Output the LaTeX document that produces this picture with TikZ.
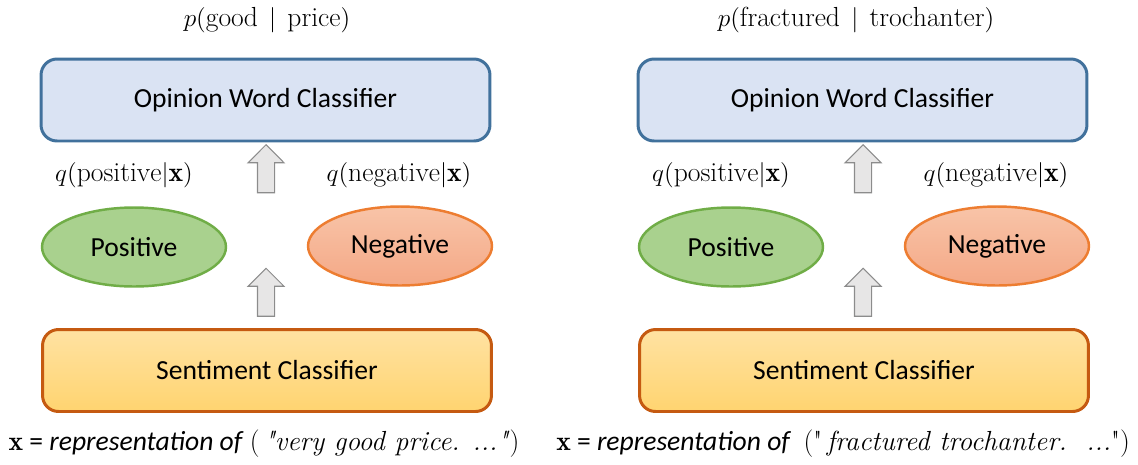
\documentclass[tikz,border=0pt]{standalone}
\usepackage{amsmath}
\usepackage{fontspec}
\setsansfont{Carlito}
\usetikzlibrary{shapes.geometric,shapes.arrows}
\newcommand{\figsize}{\fontsize{15.7}{19}\selectfont}
\definecolor{owcfill}{HTML}{DAE3F3}
\definecolor{owcline}{HTML}{41719C}
\definecolor{posfill}{HTML}{A9D18E}
\definecolor{posline}{HTML}{70AD47}
\definecolor{negtop}{HTML}{F8C4A8}
\definecolor{negbot}{HTML}{F4A886}
\definecolor{negline}{HTML}{ED7D31}
\definecolor{sctop}{HTML}{FFE2A2}
\definecolor{scbot}{HTML}{FFD470}
\definecolor{scline}{HTML}{C55A11}
\definecolor{upfill}{HTML}{E7E6E6}
\definecolor{upline}{HTML}{8C8C8C}
\tikzset{
  classbox/.style={draw, rounded corners=0.32cm, line width=1.7pt,
    minimum width=8.98cm, minimum height=1.64cm, font=\figsize\sffamily},
  oval/.style={ellipse, draw, line width=1.4pt,
    minimum width=3.68cm, minimum height=1.58cm, font=\figsize\sffamily},
  uparrow/.style={single arrow, rotate=90, draw=upline, fill=upfill,
    line width=0.6pt, minimum height=0.96cm, inner xsep=0pt,
    inner ysep=0.16cm, single arrow head extend=0.19cm}
}
\begin{document}
\begin{tikzpicture}[x=0.02cm, y=-0.02cm, font=\figsize]
  \useasboundingbox (0,0) rectangle (1138,464);
  \foreach \i/\dx in {1/0, 2/597}{
    \node[classbox, fill=owcfill, draw=owcline] (owc\i) at (265.5+\dx,100) {Opinion Word Classifier};
    \node[uparrow] (upa\i) at (266+\dx,173) {};
    \node (qpos\i) at (124+\dx,175) {$q(\mathrm{positive}|\mathbf{x})$};
    \node (qneg\i) at (399+\dx,175) {$q(\mathrm{negative}|\mathbf{x})$};
    \node[oval, fill=posfill, draw=posline] (pos\i) at (134+\dx,247) {Positive};
    \node[oval, top color=negtop, bottom color=negbot, draw=negline] (neg\i) at (400+\dx,246) {Negative};
    \node[uparrow] (upb\i) at (266+\dx,296.5) {};
    \node[classbox, top color=sctop, bottom color=scbot, draw=scline] (sc\i) at (267+\dx,370.5) {Sentiment Classifier};
  }
  % 上方的条件概率
  \node (pt1) at (267,20) {$p(\mathrm{good} \,\mid\, \mathrm{price})$};
  \node (pt2) at (856,20) {$p(\mathrm{fractured} \,\mid\, \mathrm{trochanter})$};
  % 底部的输入
  \node[font=\figsize\sffamily] (xt1) at (264,444)
    {$\mathbf{x}$ = \textit{representation of}\ {\rmfamily(\,\textit{\textquotedbl very good price. ...\textquotedbl})}};
  \node[font=\figsize\sffamily] (xt2) at (843,444)
    {$\mathbf{x}$ = \textit{representation of}\ \ {\rmfamily(\textquotedbl\,\textit{fractured trochanter.\ \ ...}\textquotedbl)}};
\end{tikzpicture}
\end{document}
